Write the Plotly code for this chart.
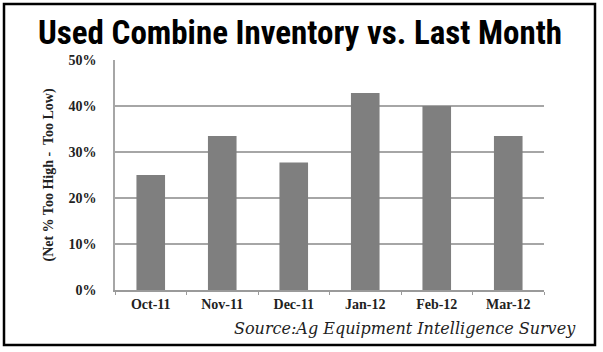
import plotly.graph_objects as go

months = ["Oct-11", "Nov-11", "Dec-11", "Jan-12", "Feb-12", "Mar-12"]
net_pct = [25.0, 33.5, 27.7, 42.8, 40.0, 33.5]
y_ticks = [0, 10, 20, 30, 40, 50]
y_tick_labels = ["0%", "10%", "20%", "30%", "40%", "50%"]

L, R, T, B = 115, 59, 60, 62
W, H = 603, 352
pw, ph = W - L - R, H - T - B

def px(x):
    return (x - L) / pw

def py(y):
    return (H - B - y) / ph

fig = go.Figure(go.Bar(
    x=months, y=net_pct, marker=dict(color="#7f7f7f", line=dict(width=0)),
    width=0.4,
))

serif = "Liberation Serif"
fig.update_layout(
    width=W, height=H,
    margin=dict(l=L, r=R, t=T, b=B),
    paper_bgcolor="white", plot_bgcolor="white",
    showlegend=False,
    xaxis=dict(
        showgrid=False, showline=True, linecolor="#9a9a9a", linewidth=1.5,
        ticks="outside", tickson="boundaries", ticklen=3, tickcolor="#9a9a9a",
        tickfont=dict(family=serif, size=14, color="#222222", weight="bold"),
        ticklabelstandoff=0,
    ),
    yaxis=dict(
        range=[0, 50], tickvals=y_ticks, ticktext=y_tick_labels,
        showgrid=True, gridcolor="#a6a6a6", gridwidth=1.5,
        showline=True, linecolor="#a6a6a6", linewidth=1.5,
        zeroline=False,
        tickfont=dict(family=serif, size=14, color="#222222", weight="bold"),
        ticks="", ticklabelstandoff=14,
        title=dict(text="(Net % Too High -  Too Low)",
                   font=dict(family=serif, size=14, color="#222222", weight="bold"), standoff=12),
    ),
    font=dict(family=serif),
)

fig.add_annotation(
    text="Used Combine Inventory vs. Last Month",
    xref="paper", yref="paper", x=px(300), y=py(32),
    xanchor="center", yanchor="middle", showarrow=False,
    font=dict(family="Roboto Condensed", size=33, color="black", weight="bold"),
)
fig.add_annotation(
    text="Source:Ag Equipment Intelligence Survey",
    xref="paper", yref="paper", x=px(578), y=py(328),
    xanchor="right", yanchor="middle", showarrow=False,
    font=dict(family="DejaVu Serif", size=16, color="#222222", style="italic"),
)
fig.add_shape(
    type="rect", xref="paper", yref="paper",
    x0=px(4), x1=px(595), y0=py(345), y1=py(4),
    line=dict(color="black", width=2.5), fillcolor="rgba(0,0,0,0)",
)

fig.write_html("out.html")
